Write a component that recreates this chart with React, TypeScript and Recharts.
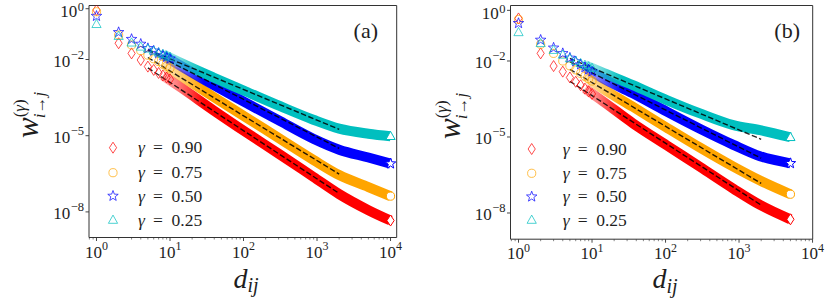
import React from "react";
import { ComposedChart, XAxis, YAxis, Line, Scatter, ReferenceArea } from "recharts";

// ---------- data ----------
const D_MARK = [1, 2, 3, 4, 5, 6, 7, 8, 9, 10];
const FIT_D = [5, 2000];
const GAMMA_LABELS = ["0.90", "0.75", "0.50", "0.25"];
const X_DECADES = [1, 10, 100, 1000, 10000];
const X_MINOR_MULT = [2, 3, 4, 5, 6, 7, 8, 9];
const X_LOW_MINOR = [0.8, 0.9];
const Y_TICKS = [1, 1e-2, 1e-5, 1e-8];

// panel (a)
const A_BAND_D = [8, 14, 39, 110, 316, 890, 2000, 5000, 10000];
const A_RED_MARK = [0.89, 0.0437, 0.0174, 0.00955, 0.00525, 0.00389, 0.00295, 0.00234, 0.00195, 0.00166];
const A_ORANGE_MARK = [0.759, 0.0912, 0.0372, 0.0224, 0.0148, 0.0107, 0.00832, 0.00661, 0.0055, 0.00457];
const A_BLUE_MARK = [0.513, 0.1175, 0.0631, 0.0407, 0.0275, 0.0219, 0.0178, 0.0148, 0.0126, 0.0107];
const A_CYAN_MARK = [0.245, 0.0832, 0.0457, 0.0316, 0.0263, 0.0219, 0.0186, 0.0162, 0.0141, 0.0126];
const A_RED_BAND = [2.34e-3, 7.94e-4, 1.0e-4, 1.32e-5, 1.78e-6, 2.4e-7, 5.01e-8, 1.17e-8, 4.57e-9];
const A_ORANGE_BAND = [6.61e-3, 2.29e-3, 3.39e-4, 5.13e-5, 7.41e-6, 1.12e-6, 2.82e-7, 9.55e-8, 4.17e-8];
const A_BLUE_BAND = [0.0148, 5.62e-3, 1.0e-3, 1.91e-4, 3.72e-5, 7.59e-6, 2.82e-6, 1.38e-6, 7.94e-7];
const A_CYAN_BAND = [0.0162, 7.41e-3, 1.95e-3, 5.37e-4, 1.45e-4, 4.27e-5, 1.91e-5, 1.2e-5, 9.55e-6];
const A_RED_FIT = [4.68e-3, 5.37e-8];
const A_ORANGE_FIT = [0.012, 3.09e-7];
const A_BLUE_FIT = [0.0229, 3.16e-6];
const A_CYAN_FIT = [0.0245, 1.78e-5];

// panel (b)
const B_BAND_D = [8, 13, 36, 104, 295, 837, 1930, 5000];
const B_RED_MARK = [0.479, 0.02, 6.31e-3, 3.8e-3, 2.24e-3, 1.51e-3, 1.1e-3, 8.13e-4, 6.31e-4, 5.01e-4];
const B_ORANGE_MARK = [0.437, 0.0457, 0.02, 0.01, 6.46e-3, 4.47e-3, 3.24e-3, 2.51e-3, 2.0e-3, 1.62e-3];
const B_BLUE_MARK = [0.309, 0.0676, 0.0331, 0.02, 0.0132, 9.55e-3, 7.24e-3, 5.62e-3, 4.57e-3, 3.8e-3];
const B_CYAN_MARK = [0.135, 0.0501, 0.0269, 0.0174, 0.0126, 0.01, 8.13e-3, 6.92e-3, 6.03e-3, 5.25e-3];
const B_RED_BAND = [8.13e-4, 3.02e-4, 3.47e-5, 4.68e-6, 6.61e-7, 9.12e-8, 2.09e-8, 5.62e-9];
const B_ORANGE_BAND = [2.51e-3, 9.33e-4, 1.55e-4, 2.34e-5, 3.8e-6, 6.76e-7, 1.91e-7, 5.5e-8];
const B_BLUE_BAND = [5.62e-3, 2.34e-3, 5.25e-4, 1.0e-4, 2.09e-5, 4.9e-6, 1.74e-6, 9.12e-7];
const B_CYAN_BAND = [6.92e-3, 3.8e-3, 1.12e-3, 2.88e-4, 8.51e-5, 2.95e-5, 1.86e-5, 9.77e-6];
const B_RED_FIT = [1.58e-3, 2.04e-8];
const B_ORANGE_FIT = [4.68e-3, 1.48e-7];
const B_BLUE_FIT = [9.33e-3, 1.45e-6];
const B_CYAN_FIT = [0.0126, 8.13e-6];

// ---------- styling ----------
const FONT = "'Liberation Serif', 'DejaVu Serif', serif";
const TXT = "#1e1e1e";
const COLORS = ["#ff0000", "#ffa500", "#0000ff", "#00bfbf"];
const SHAPES = ["diamond", "circle", "star", "triangle"];
const KEYS = ["red", "orange", "blue", "cyan"];

const rows = (ds: number[], ws: number[]) => ds.map((d, i) => ({ d, w: ws[i] }));

function Marker({ kind, cx, cy, color, fill = "none", opacity = 0.7 }: any) {
  const common = { stroke: color, strokeWidth: 1, strokeOpacity: opacity, fill };
  if (kind === "diamond") {
    return <polygon {...common} points={`${cx},${cy - 5.5} ${cx + 3.6},${cy} ${cx},${cy + 5.5} ${cx - 3.6},${cy}`} />;
  }
  if (kind === "circle") return <circle {...common} cx={cx} cy={cy} r={4.1} />;
  if (kind === "triangle") {
    return <polygon {...common} points={`${cx},${cy - 4.9} ${cx + 4.6},${cy + 3.3} ${cx - 4.6},${cy + 3.3}`} />;
  }
  const pts: string[] = [];
  for (let k = 0; k < 10; k++) {
    const r = k % 2 === 0 ? 5.5 : 2.3;
    const a = -Math.PI / 2 + (k * Math.PI) / 5;
    pts.push(`${cx + r * Math.cos(a)},${cy + r * Math.sin(a)}`);
  }
  return <polygon {...common} points={pts.join(" ")} />;
}

const XTick = (props: any) => {
  const { x, y, payload } = props;
  const lg = Math.log10(payload.value);
  const e = Math.round(lg);
  const major = Math.abs(lg - e) < 1e-9;
  return (
    <g>
      <line x1={x} x2={x} y1={y} y2={y + (major ? 3.5 : 2)} stroke="#333" strokeWidth={major ? 0.9 : 0.6} />
      {major && (
        <text x={x} y={y + 20} textAnchor="middle" style={{ fontFamily: FONT }} fontSize={17} fill={TXT}>
          10<tspan dy={-7.5} fontSize={12}>{e}</tspan>
        </text>
      )}
    </g>
  );
};

const YTick = (props: any) => {
  const { x, y, payload } = props;
  const e = Math.round(Math.log10(payload.value));
  const base = e === 0 ? y + 8.5 : y + 7;
  return (
    <g>
      <line x1={x - 3.5} x2={x} y1={y} y2={y} stroke="#333" strokeWidth={0.9} />
      <text x={x - 5} y={base} textAnchor="end" style={{ fontFamily: FONT }} fontSize={17} fill={TXT}>
        10<tspan dx={0.5} dy={e === 0 ? -6 : -7.5} fontSize={12.5}>{e === 0 ? "0" : "\u2212" + Math.abs(e)}</tspan>
      </text>
    </g>
  );
};

function makePanel(id: string, left: number, bandD: number[], marks: number[][], bands: number[][], fits: number[][], cfg: any) {
  const xTicks = [...X_LOW_MINOR, ...X_DECADES.flatMap((d) => [d, ...X_MINOR_MULT.map((m) => m * d)])].filter(
    (v) => v >= cfg.xDomain[0] && v <= cfg.xDomain[1]
  );
  return {
    id,
    left,
    xTicks,
    ...cfg,
    series: KEYS.map((k, i) => ({
      key: k,
      color: COLORS[i],
      shape: SHAPES[i],
      marks: rows(D_MARK, marks[i]),
      band: rows(bandD, bands[i]),
      end: rows([bandD[bandD.length - 1]], [bands[i][bands[i].length - 1]]),
      fit: rows(FIT_D, fits[i]),
    })),
  };
}

const PANEL_A = makePanel(
  "pa",
  0,
  A_BAND_D,
  [A_RED_MARK, A_ORANGE_MARK, A_BLUE_MARK, A_CYAN_MARK],
  [A_RED_BAND, A_ORANGE_BAND, A_BLUE_BAND, A_CYAN_BAND],
  [A_RED_FIT, A_ORANGE_FIT, A_BLUE_FIT, A_CYAN_FIT],
  {
    margin: { top: 5.5, right: 18.3, bottom: 0, left: 0 },
    yAxisW: 89,
    xAxisH: 60.5,
    xDomain: [0.7907, 12134],
    yDomain: [9.82e-10, 1.337],
  }
);

const PANEL_B = makePanel(
  "pb",
  415,
  B_BAND_D,
  [B_RED_MARK, B_ORANGE_MARK, B_BLUE_MARK, B_CYAN_MARK],
  [B_RED_BAND, B_ORANGE_BAND, B_BLUE_BAND, B_CYAN_BAND],
  [B_RED_FIT, B_ORANGE_FIT, B_BLUE_FIT, B_CYAN_FIT],
  {
    margin: { top: 5.5, right: 17.3, bottom: 0, left: 0 },
    yAxisW: 95.5,
    xAxisH: 58.8,
    xDomain: [0.778, 10046],
    yDomain: [9.23e-10, 1.552],
  }
);

function Panel({ p }: { p: any }) {
  return (
    <div style={{ position: "absolute", left: p.left, top: 0 }}>
      <ComposedChart width={415} height={298} margin={p.margin}>
        <defs>
          {p.series.map((s: any) => (
            <linearGradient key={s.key} id={`${p.id}-${s.key}`} x1="0" y1="0" x2="1" y2="0">
              <stop offset="0" stopColor={s.color} stopOpacity={0.3} />
              <stop offset="0.06" stopColor={s.color} stopOpacity={0.5} />
              <stop offset="0.18" stopColor={s.color} stopOpacity={1} />
              <stop offset="1" stopColor={s.color} stopOpacity={1} />
            </linearGradient>
          ))}
        </defs>
        <XAxis
          dataKey="d"
          type="number"
          scale="log"
          domain={p.xDomain}
          allowDataOverflow
          ticks={p.xTicks}
          interval={0}
          tick={(props: any) => <XTick {...props} />}
          tickLine={false}
          axisLine={false}
          tickSize={0}
          tickMargin={0}
          height={p.xAxisH}
        />
        <YAxis
          dataKey="w"
          type="number"
          scale="log"
          domain={p.yDomain}
          allowDataOverflow
          ticks={Y_TICKS}
          interval={0}
          tick={(props: any) => <YTick {...props} />}
          tickLine={false}
          axisLine={false}
          tickSize={0}
          tickMargin={0}
          width={p.yAxisW}
        />
        {p.series.flatMap((s: any) => [
          <Line
            key={`${s.key}-band`}
            data={s.band}
            dataKey="w"
            type="monotone"
            stroke={`url(#${p.id}-${s.key})`}
            strokeWidth={10}
            dot={false}
            activeDot={false}
            isAnimationActive={false}
          />,
          <Scatter
            key={`${s.key}-marks`}
            data={s.marks}
            dataKey="w"
            isAnimationActive={false}
            shape={(sp: any) => <Marker kind={s.shape} cx={sp.cx} cy={sp.cy} color={s.color} />}
          />,
          <Scatter
            key={`${s.key}-end`}
            data={s.end}
            dataKey="w"
            isAnimationActive={false}
            shape={(sp: any) => <Marker kind={s.shape} cx={sp.cx} cy={sp.cy} color={s.color} fill="#ffffff" opacity={1} />}
          />,
        ])}
        {p.series.map((s: any) => (
          <Line
            key={`${s.key}-fit`}
            data={s.fit}
            dataKey="w"
            type="linear"
            stroke="#000"
            strokeOpacity={0.85}
            strokeWidth={1.4}
            strokeDasharray="5.5 2.4"
            dot={false}
            activeDot={false}
            isAnimationActive={false}
          />
        ))}
        <ReferenceArea
          x1={p.xDomain[0]}
          x2={p.xDomain[1]}
          y1={p.yDomain[0]}
          y2={p.yDomain[1]}
          fill="none"
          fillOpacity={0}
          stroke="#333"
          strokeWidth={1}
          ifOverflow="visible"
        />
      </ComposedChart>
    </div>
  );
}

function Legend({ mx, tx, ys }: { mx: number; tx: number; ys: number[] }) {
  return (
    <g>
      {ys.map((y, i) => (
        <g key={i}>
          <Marker kind={SHAPES[i]} cx={mx} cy={y} color={COLORS[i]} />
          <text x={tx} y={y + 5.5} style={{ fontFamily: FONT }} fontSize={17.5} fill={TXT}>
            <tspan fontStyle="italic">γ</tspan>
            <tspan x={tx + 15}>=</tspan>
            <tspan x={tx + 33.5}>{GAMMA_LABELS[i]}</tspan>
          </text>
        </g>
      ))}
    </g>
  );
}

function YLabel({ x, y }: { x: number; y: number }) {
  return (
    <text transform={`translate(${x},${y}) rotate(-90)`} style={{ fontFamily: FONT }} fill={TXT}>
      <tspan fontStyle="italic" fontSize={31}>w</tspan>
      <tspan fontSize={17} dy={-13}>(</tspan>
      <tspan fontSize={17} fontStyle="italic">γ</tspan>
      <tspan fontSize={17}>)</tspan>
      <tspan fontSize={17} fontStyle="italic" dx={-19} dy={20}>i</tspan>
      <tspan fontSize={17}>→</tspan>
      <tspan fontSize={17} fontStyle="italic">j</tspan>
    </text>
  );
}

function XLabel({ x, y }: { x: number; y: number }) {
  return (
    <text x={x} y={y} textAnchor="middle" style={{ fontFamily: FONT }} fill={TXT} fontStyle="italic">
      <tspan fontSize={28}>d</tspan>
      <tspan fontSize={20} dy={4.5}>ij</tspan>
    </text>
  );
}

export default function App() {
  return (
    <div style={{ position: "absolute", left: 0, top: 0, width: 830, height: 298, background: "#fff" }}>
      <Panel p={PANEL_A} />
      <Panel p={PANEL_B} />
      <svg width={830} height={298} style={{ position: "absolute", left: 0, top: 0, pointerEvents: "none" }}>
        <Legend mx={113} tx={138} ys={[147.7, 172.7, 196, 220]} />
        <Legend mx={531.7} tx={562.7} ys={[149, 173.3, 196.7, 220]} />
        <YLabel x={38} y={138} />
        <YLabel x={460} y={139} />
        <XLabel x={246} y={287.5} />
        <XLabel x={665} y={288} />
        <text x={378} y={37.5} textAnchor="end" style={{ fontFamily: FONT }} fontSize={22} fill={TXT}>(a)</text>
        <text x={800} y={37.5} textAnchor="end" style={{ fontFamily: FONT }} fontSize={22} fill={TXT}>(b)</text>
      </svg>
    </div>
  );
}
